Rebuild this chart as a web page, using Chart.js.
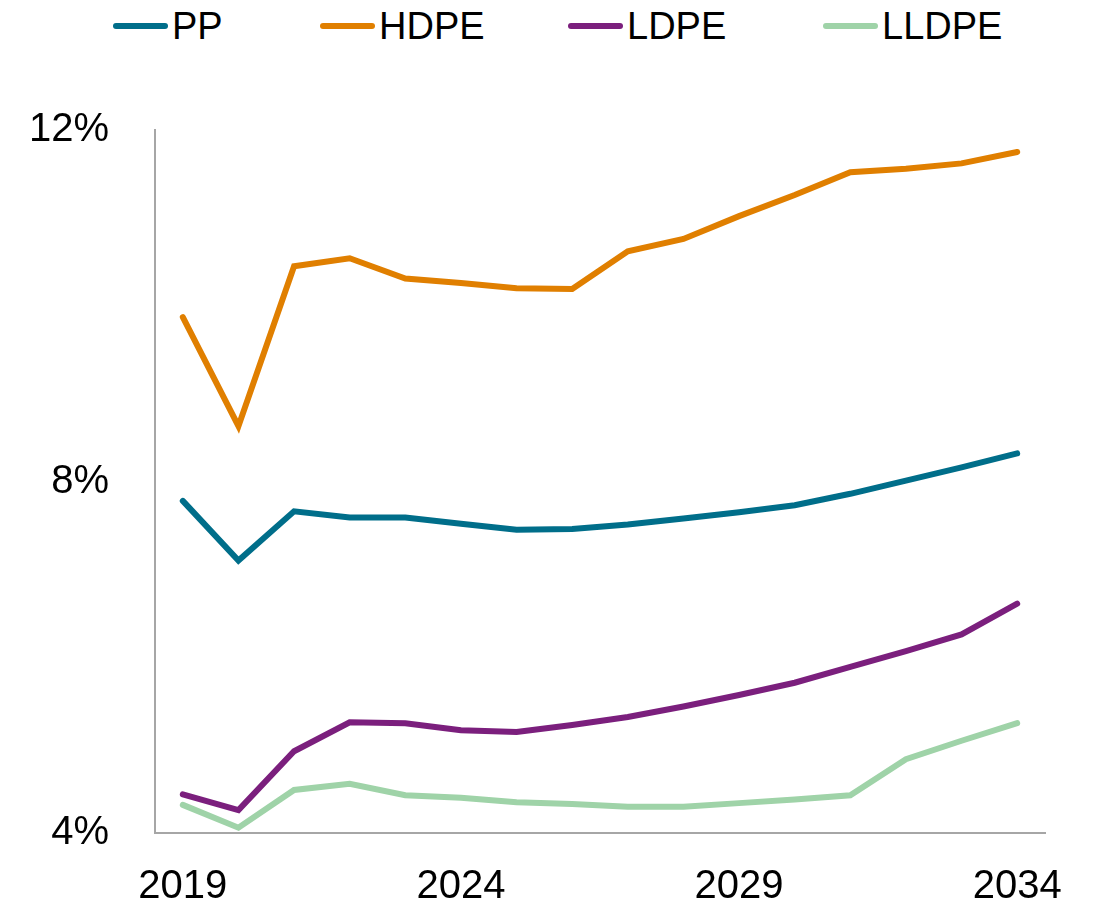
<!DOCTYPE html>
<html>
<head>
<meta charset="utf-8">
<script src="https://cdn.jsdelivr.net/npm/chart.js@4"></script>
<style>
  html, body { margin: 0; padding: 0; background: #fff; }
  #wrap { position: relative; width: 1094px; height: 917px; }
  #legend { position: absolute; top: 0; left: 0; width: 1094px; height: 52px;
            font-family: "Liberation Sans", Arial, sans-serif; font-size: 38px; color: #000; }
  .item { position: absolute; top: 4px; display: flex; align-items: center; height: 44px; }
  .swatch { width: 55px; height: 6px; border-radius: 3px; margin-right: 4px; }
  canvas { position: absolute; top: 0; left: 0; }
</style>
</head>
<body>
<div id="wrap">
  <div id="legend"></div>
  <canvas id="chart" width="1094" height="917"></canvas>
</div>
<script>
let years = ["2019","2020","2021","2022","2023","2024","2025","2026","2027","2028","2029","2030","2031","2032","2033","2034"];
let pp    = [7.78, 7.10, 7.66, 7.59, 7.59, 7.52, 7.45, 7.46, 7.51, 7.58, 7.65, 7.73, 7.86, 8.01, 8.16, 8.32];
let hdpe  = [9.87, 8.63, 10.45, 10.54, 10.31, 10.26, 10.20, 10.19, 10.62, 10.76, 11.02, 11.26, 11.52, 11.56, 11.62, 11.75];
let ldpe  = [4.44, 4.26, 4.93, 5.26, 5.25, 5.17, 5.15, 5.23, 5.32, 5.44, 5.57, 5.71, 5.89, 6.07, 6.26, 6.61];
let lldpe = [4.32, 4.06, 4.49, 4.56, 4.43, 4.40, 4.35, 4.33, 4.30, 4.30, 4.34, 4.38, 4.43, 4.84, 5.05, 5.25];
let seriesNames = ["PP", "HDPE", "LDPE", "LLDPE"];
let colors = ["#006E8A", "#E07F00", "#7B1F7D", "#9FD3A8"];
let yTicks = [4, 8, 12];

// legend drawn as html so spacing matches
let legendPos = [113, 320, 568, 823];
let legendDiv = document.getElementById("legend");
seriesNames.forEach((name, i) => {
    let item = document.createElement("div");
    item.className = "item";
    item.style.left = legendPos[i] + "px";
    item.innerHTML = '<div class="swatch" style="background:' + colors[i] + '"></div><span>' + name + '</span>';
    legendDiv.appendChild(item);
});

let allSeries = [pp, hdpe, ldpe, lldpe];
let ctx = document.getElementById("chart").getContext("2d");
new Chart(ctx, {
    type: "line",
    data: {
        labels: years,
        datasets: allSeries.map((vals, i) => ({
            label: seriesNames[i],
            data: vals,
            borderColor: colors[i],
            backgroundColor: colors[i],
            borderWidth: 6,
            pointRadius: 0,
            tension: 0,
            borderCapStyle: "round",
            borderJoinStyle: "miter"
        }))
    },
    options: {
        responsive: false,
        animation: false,
        layout: { padding: { top: 130, right: 49, left: 0, bottom: 0 } },
        plugins: { legend: { display: false }, tooltip: { enabled: false } },
        scales: {
            x: {
                offset: true,
                grid: { display: false, drawTicks: false },
                border: { display: true, color: "#A6A6A6", width: 2 },
                ticks: {
                    autoSkip: false,
                    maxRotation: 0,
                    padding: 30,
                    color: "#000",
                    font: { family: "Liberation Sans, Arial, sans-serif", size: 40 },
                    callback: function(v, i) { return i % 5 === 0 ? years[i] : ""; }
                },
                afterFit: function(scale) { scale.height = 84; }
            },
            y: {
                min: 4,
                max: 12,
                afterBuildTicks: function(scale) { scale.ticks = yTicks.map(v => ({ value: v })); },
                grid: { display: false, drawTicks: false },
                border: { display: true, color: "#A6A6A6", width: 2 },
                ticks: {
                    padding: 46,
                    color: "#000",
                    font: { family: "Liberation Sans, Arial, sans-serif", size: 40 },
                    callback: function(v) { return v + "%"; }
                },
                afterFit: function(scale) { scale.width = 155; }
            }
        }
    }
});
</script>
</body>
</html>
